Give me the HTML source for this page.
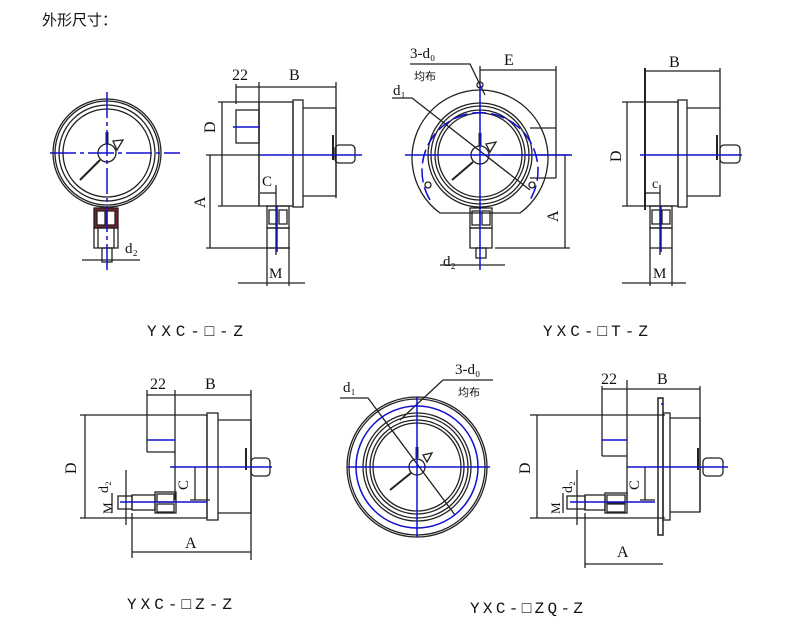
<!DOCTYPE html>
<html><head><meta charset="utf-8"><style>
html,body{margin:0;padding:0;background:#fff;}
svg{display:block}
text{font-family:"Liberation Serif","Noto Serif CJK SC",serif;fill:#111}
.m{font-family:"Liberation Mono","Noto Sans CJK SC",monospace}
</style></head><body>
<svg width="790" height="630" viewBox="0 0 790 630" xmlns="http://www.w3.org/2000/svg">
<g fill="none" stroke="#222" stroke-width="1.3">
<!-- Drawing 1: front gauge -->
<circle cx="107" cy="153" r="54"/><circle cx="107" cy="153" r="52"/>
<circle cx="107" cy="153" r="48"/><circle cx="107" cy="153" r="44"/>
<circle cx="107" cy="153" r="9"/>
<line x1="100" y1="160" x2="80" y2="180" stroke-width="2"/>
<line x1="107" y1="132" x2="107" y2="144" stroke-width="3"/>
<path d="M113 141 L123 140 L117 150 Z"/>
<rect x="94" y="208" width="24" height="20" fill="#7a1f2a"/>
<rect x="97" y="211" width="8" height="14" fill="#fff"/><rect x="107" y="211" width="8" height="14" fill="#fff"/>
<rect x="94" y="228" width="24" height="20"/><line x1="98" y1="228" x2="98" y2="248"/><line x1="114" y1="228" x2="114" y2="248"/>
<rect x="102" y="248" width="10" height="14"/>
<line x1="82" y1="260" x2="140" y2="260"/>
<!-- Drawing 2: side -->
<line x1="236" y1="84" x2="236" y2="104"/><line x1="259" y1="82" x2="259" y2="206"/><line x1="336" y1="82" x2="336" y2="198"/>
<line x1="236" y1="87" x2="336" y2="87"/>
<rect x="236" y="110" width="23" height="33"/>
<rect x="259" y="102" width="34" height="104"/>
<rect x="293" y="100" width="10" height="107"/>
<path d="M303 108 H336 V196 H303"/>
<rect x="335" y="145" width="20" height="18" rx="4"/>
<line x1="333" y1="135" x2="333" y2="160" stroke-width="2"/>
<line x1="218" y1="102" x2="259" y2="102"/><line x1="218" y1="206" x2="259" y2="206"/>
<line x1="222" y1="102" x2="222" y2="206"/>
<line x1="206" y1="155" x2="259" y2="155"/><line x1="210" y1="155" x2="210" y2="248"/>
<line x1="206" y1="248" x2="290" y2="248"/>
<rect x="267" y="206" width="22" height="22"/><rect x="269" y="210" width="8" height="14"/><rect x="279" y="210" width="8" height="14"/>
<rect x="267" y="228" width="22" height="20"/>
<line x1="260" y1="193" x2="276" y2="193"/><line x1="276" y1="185" x2="276" y2="255"/>
<line x1="267" y1="248" x2="267" y2="286"/><line x1="289" y1="248" x2="289" y2="286"/>
<line x1="238" y1="283" x2="305" y2="283"/>
<!-- Drawing 3: front with flange -->
<path d="M440 213 A68 68 0 1 1 520 213 Z"/>
<circle cx="480" cy="155" r="52"/><circle cx="480" cy="155" r="49"/>
<circle cx="480" cy="155" r="45"/><circle cx="480" cy="155" r="42"/>
<circle cx="480" cy="155" r="9"/>
<line x1="473" y1="162" x2="452" y2="180" stroke-width="2"/>
<line x1="480" y1="133" x2="480" y2="146" stroke-width="3"/>
<path d="M486 144 L496 142 L490 152 Z"/>
<rect x="470" y="208" width="22" height="20"/><rect x="472" y="211" width="8" height="14"/><rect x="482" y="211" width="8" height="14"/>
<rect x="470" y="228" width="22" height="20"/><rect x="476" y="248" width="10" height="10"/>
<line x1="440" y1="265" x2="505" y2="265"/>
<line x1="480" y1="66" x2="480" y2="84"/><line x1="556" y1="66" x2="556" y2="178"/>
<line x1="480" y1="70" x2="556" y2="70"/>
<path d="M530 128 H556 M530 178 H556"/>
<line x1="500" y1="155" x2="570" y2="155"/><line x1="565" y1="155" x2="565" y2="248"/>
<line x1="495" y1="248" x2="570" y2="248"/>
<path d="M410 64 H470 L485 95"/>
<path d="M392 98 H412 L530 190"/>
<circle cx="480" cy="85" r="3"/><circle cx="428" cy="185" r="3"/><circle cx="532" cy="185" r="3"/>
<!-- Drawing 4 -->
<line x1="645" y1="68" x2="645" y2="210" stroke-width="2"/><line x1="720" y1="68" x2="720" y2="108"/>
<line x1="645" y1="71" x2="720" y2="71"/>
<rect x="645" y="102" width="33" height="104"/><rect x="678" y="100" width="9" height="107"/>
<path d="M687 108 H720 V196 H687"/>
<rect x="720" y="145" width="20" height="18" rx="4"/><line x1="717" y1="135" x2="717" y2="160" stroke-width="2"/>
<line x1="622" y1="102" x2="645" y2="102"/><line x1="622" y1="206" x2="645" y2="206"/><line x1="627" y1="102" x2="627" y2="206"/>
<rect x="650" y="206" width="22" height="22"/><rect x="652" y="210" width="8" height="14"/><rect x="662" y="210" width="8" height="14"/>
<rect x="650" y="228" width="22" height="20"/>
<line x1="646" y1="193" x2="660" y2="193"/><line x1="660" y1="185" x2="660" y2="255"/>
<line x1="650" y1="248" x2="650" y2="286"/><line x1="672" y1="248" x2="672" y2="286"/>
<line x1="622" y1="283" x2="686" y2="283"/>
<!-- Drawing 5 -->
<line x1="147" y1="390" x2="147" y2="452"/><line x1="175" y1="390" x2="175" y2="500"/><line x1="251" y1="390" x2="251" y2="560"/>
<line x1="147" y1="395" x2="251" y2="395"/>
<path d="M147 452 H175"/>
<line x1="80" y1="415" x2="207" y2="415"/><line x1="80" y1="518" x2="207" y2="518"/>
<line x1="85" y1="415" x2="85" y2="518"/>
<line x1="207" y1="415" x2="207" y2="518"/>
<rect x="207" y="413" width="11" height="107"/>
<path d="M218 420 H251 V513 H218"/>
<rect x="251" y="458" width="19" height="18" rx="4"/><line x1="246" y1="448" x2="246" y2="470" stroke-width="2"/>
<rect x="155" y="492" width="21" height="21"/><rect x="157" y="494" width="17" height="8"/><rect x="157" y="504" width="17" height="8"/>
<rect x="132" y="495" width="23" height="15"/><rect x="118" y="496" width="14" height="13"/>
<line x1="112" y1="493" x2="112" y2="513"/><line x1="126" y1="470" x2="126" y2="525"/>
<line x1="195" y1="467" x2="195" y2="500"/><line x1="190" y1="500" x2="210" y2="500"/>
<line x1="132" y1="513" x2="132" y2="558"/><line x1="132" y1="552" x2="251" y2="552"/>
<!-- Drawing 6 -->
<circle cx="417" cy="467" r="70"/><circle cx="417" cy="467" r="68"/>
<circle cx="417" cy="467" r="54"/><circle cx="417" cy="467" r="51"/>
<circle cx="417" cy="467" r="47"/><circle cx="417" cy="467" r="44"/>
<circle cx="417" cy="467" r="8"/>
<line x1="411" y1="473" x2="390" y2="490" stroke-width="2"/>
<line x1="417" y1="447" x2="417" y2="458" stroke-width="3"/>
<path d="M423 455 L432 453 L427 462 Z"/>
<path d="M443 380 H493 M443 380 L400 420"/>
<path d="M340 398 H368 L455 515"/>
<!-- Drawing 7 -->
<line x1="602" y1="386" x2="602" y2="456"/><line x1="627" y1="380" x2="627" y2="500"/><line x1="700" y1="386" x2="700" y2="512"/>
<line x1="602" y1="389" x2="700" y2="389"/>
<path d="M602 456 H627"/>
<line x1="530" y1="415" x2="665" y2="415"/><line x1="530" y1="518" x2="665" y2="518"/>
<line x1="537" y1="415" x2="537" y2="518"/>
<rect x="658" y="398" width="5" height="137" stroke-width="1.5"/>
<rect x="663" y="413" width="7" height="107"/>
<path d="M670 418 H700 V512 H670"/>
<rect x="703" y="458" width="20" height="18" rx="4"/><line x1="698" y1="448" x2="698" y2="470" stroke-width="2"/>
<rect x="605" y="493" width="22" height="20"/><rect x="607" y="495" width="18" height="8"/><rect x="607" y="504" width="18" height="8"/>
<rect x="585" y="495" width="20" height="15"/><rect x="567" y="496" width="18" height="13"/>
<line x1="563" y1="493" x2="563" y2="513"/><line x1="577" y1="470" x2="577" y2="525"/>
<line x1="645" y1="467" x2="645" y2="500"/><line x1="640" y1="500" x2="655" y2="500"/>
<line x1="585" y1="513" x2="585" y2="568"/><line x1="585" y1="564" x2="663" y2="564"/>
</g>
<!-- blue centre lines -->
<g stroke="#1010d0" stroke-width="1.5" fill="none">
<line x1="50" y1="153" x2="180" y2="153" stroke-dasharray="26 4 4 4"/>
<line x1="107" y1="92" x2="107" y2="270" stroke-dasharray="26 4 4 4"/>
<line x1="259" y1="155" x2="362" y2="155"/><line x1="233" y1="127" x2="260" y2="127"/>
<line x1="277" y1="206" x2="277" y2="252"/>
<line x1="405" y1="155" x2="572" y2="155"/><line x1="480" y1="84" x2="480" y2="270"/>
<path d="M430 200 A58 58 0 1 1 530 200" stroke-dasharray="14 5"/>
<line x1="640" y1="155" x2="742" y2="155"/><line x1="661" y1="206" x2="661" y2="252"/>
<line x1="170" y1="467" x2="272" y2="467"/><line x1="147" y1="440" x2="175" y2="440"/>
<line x1="120" y1="502" x2="207" y2="502"/>
<line x1="347" y1="467" x2="490" y2="467"/><line x1="417" y1="397" x2="417" y2="537"/>
<circle cx="417" cy="467" r="61"/>
<line x1="627" y1="467" x2="728" y2="467"/><line x1="602" y1="440" x2="627" y2="440"/>
<line x1="570" y1="502" x2="655" y2="502"/><line x1="662" y1="403" x2="662" y2="405"/>
</g>
<!-- labels -->
<text x="42" y="25" style="font-family:'Noto Sans CJK SC',sans-serif;font-size:15px">外形尺寸：</text>
<text x="232" y="80" font-size="16">22</text><text x="289" y="80" font-size="16">B</text>
<text x="215" y="133" font-size="16" transform="rotate(-90 215 133)">D</text>
<text x="205" y="208" font-size="16" transform="rotate(-90 205 208)">A</text>
<text x="262" y="186" font-size="15">C</text><text x="269" y="278" font-size="15">M</text>
<text x="125" y="253" font-size="15">d₂</text>
<text class="m" x="147" y="336" font-size="16" textLength="96" lengthAdjust="spacing">YXC-□-Z</text>
<text x="410" y="58" font-size="15">3-d₀</text>
<text x="414" y="80" style="font-family:'Noto Sans CJK SC',sans-serif;font-size:11px">均布</text>
<text x="393" y="95" font-size="15">d₁</text>
<text x="504" y="65" font-size="16">E</text>
<text x="558" y="222" font-size="16" transform="rotate(-90 558 222)">A</text>
<text x="443" y="266" font-size="15">d₂</text>
<text x="669" y="67" font-size="16">B</text>
<text x="621" y="162" font-size="16" transform="rotate(-90 621 162)">D</text>
<text x="652" y="188" font-size="14">c</text><text x="653" y="278" font-size="15">M</text>
<text class="m" x="543" y="336" font-size="16" textLength="105" lengthAdjust="spacing">YXC-□T-Z</text>
<text x="150" y="389" font-size="16">22</text><text x="205" y="389" font-size="16">B</text>
<text x="76" y="474" font-size="16" transform="rotate(-90 76 474)">D</text>
<text x="188" y="490" font-size="15" transform="rotate(-90 188 490)">C</text>
<text x="108" y="493" font-size="14" transform="rotate(-90 108 493)">d₂</text>
<text x="112" y="514" font-size="13" transform="rotate(-90 112 514)">M</text>
<text x="185" y="548" font-size="16">A</text>
<text class="m" x="127" y="609" font-size="16" textLength="105" lengthAdjust="spacing">YXC-□Z-Z</text>
<text x="455" y="374" font-size="15">3-d₀</text>
<text x="458" y="396" style="font-family:'Noto Sans CJK SC',sans-serif;font-size:11px">均布</text>
<text x="343" y="392" font-size="15">d₁</text>
<text x="601" y="384" font-size="16">22</text><text x="657" y="384" font-size="16">B</text>
<text x="530" y="474" font-size="16" transform="rotate(-90 530 474)">D</text>
<text x="639" y="490" font-size="15" transform="rotate(-90 639 490)">C</text>
<text x="572" y="493" font-size="14" transform="rotate(-90 572 493)">d₂</text>
<text x="560" y="514" font-size="13" transform="rotate(-90 560 514)">M</text>
<text x="617" y="557" font-size="16">A</text>
<text class="m" x="470" y="613" font-size="16" textLength="113" lengthAdjust="spacing">YXC-□ZQ-Z</text>
</svg>
</body></html>
